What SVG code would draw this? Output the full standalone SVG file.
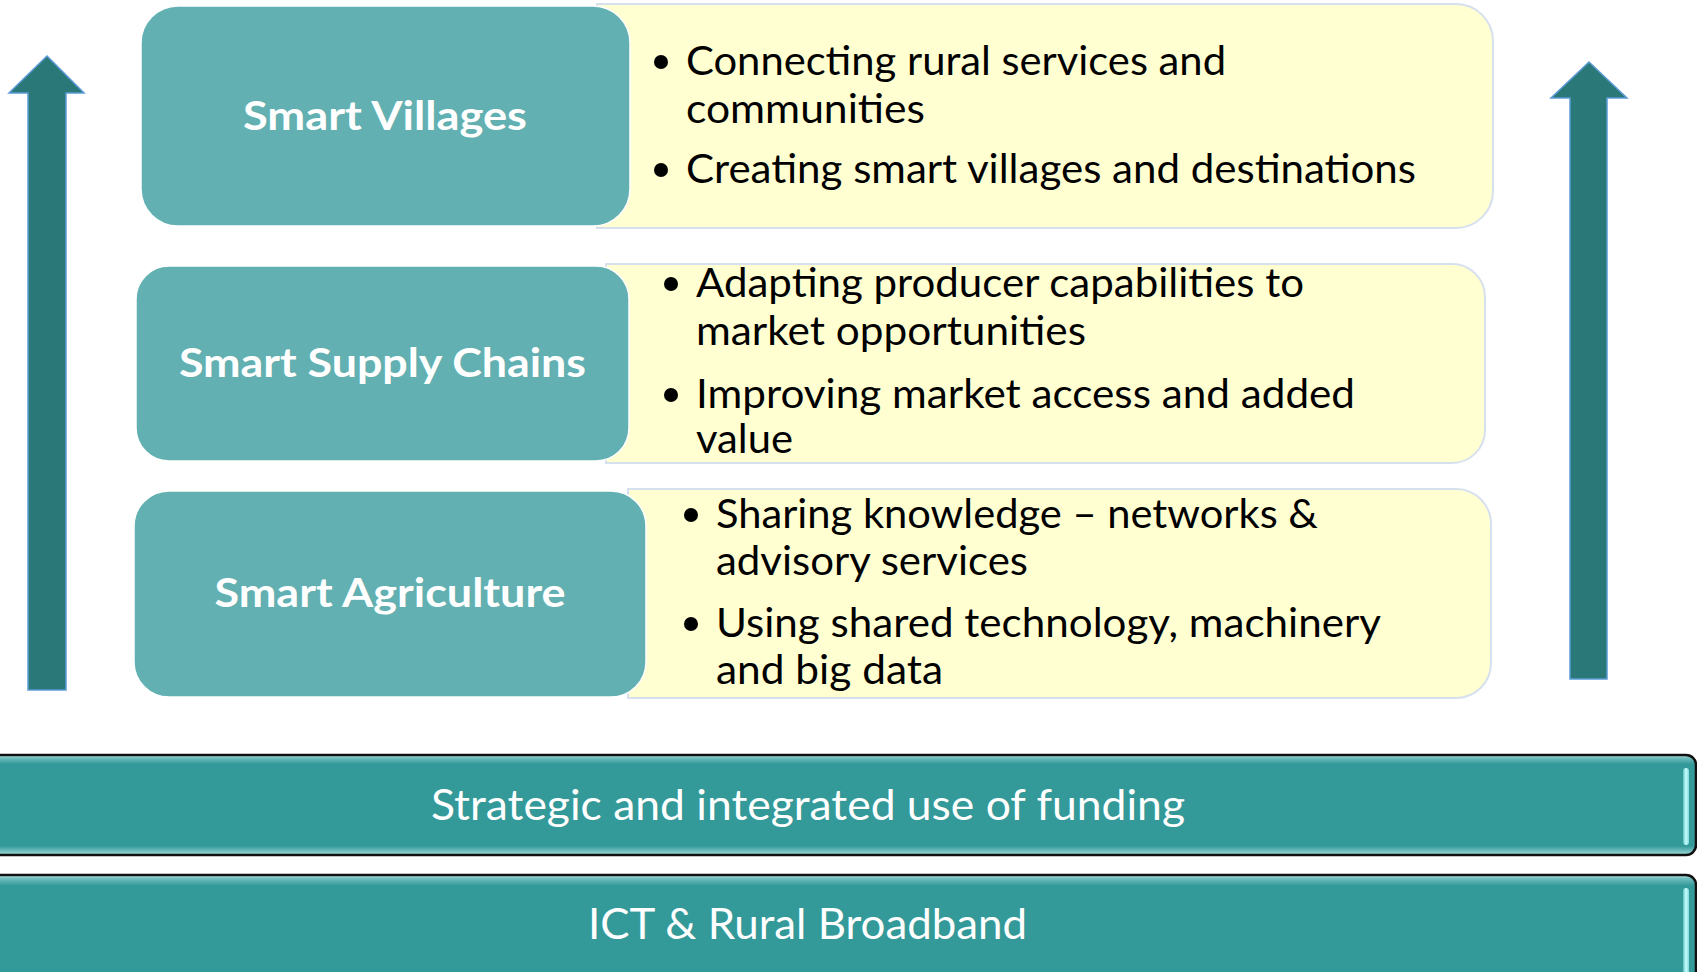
<svg xmlns="http://www.w3.org/2000/svg" width="1697" height="972" viewBox="0 0 1697 972">
<style>
.teal{fill:#62b0b1;stroke:#ffffff;stroke-width:1.5}
.yel{fill:#ffffd2;stroke:#d6e0ee;stroke-width:2}
.title{font-family:Lato,"Open Sans",sans-serif;font-weight:bold;font-size:41px;fill:#ffffff;text-anchor:middle}
.bul{font-family:Lato,"Open Sans",sans-serif;font-size:40.5px;fill:#000000}
.dot{fill:#000000}
.arrow{fill:#2a7878;stroke:#5b9bd5;stroke-width:1.5}
.bar{fill:url(#bevel);stroke:#111111;stroke-width:2.5}
.hl{fill:url(#hlg)}
.bartxt{font-family:Lato,"Open Sans",sans-serif;font-size:42px;fill:#ffffff;text-anchor:middle}
</style>
<defs>
<linearGradient id="bevel" x1="0" y1="0" x2="0" y2="1">
<stop offset="0" stop-color="#c4eaea"/>
<stop offset="0.03" stop-color="#6fbdbd"/>
<stop offset="0.09" stop-color="#339999"/>
<stop offset="0.91" stop-color="#339999"/>
<stop offset="0.96" stop-color="#6fbdbd"/>
<stop offset="1" stop-color="#a8dede"/>
</linearGradient>
<linearGradient id="hlg" x1="0" y1="0" x2="1" y2="0">
<stop offset="0" stop-color="#5fc0c0"/>
<stop offset="0.5" stop-color="#c8ffff"/>
<stop offset="1" stop-color="#7fd8d8"/>
</linearGradient>
</defs>
<rect x="0" y="0" width="1697" height="972" fill="#ffffff"/>

<g id="connectors">
<path class="arrow" d="M47,56 L84,93 L66,93 L66,690 L28,690 L28,93 L9,93 Z"/>
<path class="arrow" d="M1589,62 L1627,98 L1607,98 L1607,679 L1570,679 L1570,98 L1551,98 Z"/>
</g>

<g id="smart-villages">
<path class="yel" d="M597,4 L1456,4 A37,37 0 0 1 1493,41 L1493,191 A37,37 0 0 1 1456,228 L597,228 Z"/>
<rect class="teal" x="141" y="6" width="489" height="220" rx="37" ry="37"/>
<text class="title" x="385" y="130" textLength="284" lengthAdjust="spacingAndGlyphs">Smart Villages</text>
<circle class="dot" cx="661" cy="62" r="7"/>
<text class="bul" x="686" y="75" textLength="540" lengthAdjust="spacingAndGlyphs">Connecting rural services and</text>
<text class="bul" x="686" y="123" textLength="239" lengthAdjust="spacingAndGlyphs">communities</text>
<circle class="dot" cx="661" cy="170" r="7"/>
<text class="bul" x="686" y="183" textLength="730" lengthAdjust="spacingAndGlyphs">Creating smart villages and destinations</text>
</g>

<g id="smart-supply-chains">
<path class="yel" d="M606,264 L1452,264 A33,33 0 0 1 1485,297 L1485,430 A33,33 0 0 1 1452,463 L606,463 Z"/>
<rect class="teal" x="136" y="266" width="493" height="195" rx="33" ry="33"/>
<text class="title" x="382.5" y="377" textLength="407" lengthAdjust="spacingAndGlyphs">Smart Supply Chains</text>
<circle class="dot" cx="671" cy="284" r="7"/>
<text class="bul" x="696" y="297" textLength="608" lengthAdjust="spacingAndGlyphs">Adapting producer capabilities to</text>
<text class="bul" x="696" y="345" textLength="390" lengthAdjust="spacingAndGlyphs">market opportunities</text>
<circle class="dot" cx="671" cy="395" r="7"/>
<text class="bul" x="696" y="408" textLength="659" lengthAdjust="spacingAndGlyphs">Improving market access and added</text>
<text class="bul" x="696" y="453" textLength="97" lengthAdjust="spacingAndGlyphs">value</text>
</g>

<g id="smart-agriculture">
<path class="yel" d="M628,489 L1456,489 A35,35 0 0 1 1491,524 L1491,663 A35,35 0 0 1 1456,698 L628,698 Z"/>
<rect class="teal" x="134" y="491" width="512" height="206" rx="35" ry="35"/>
<text class="title" x="390" y="607" textLength="351" lengthAdjust="spacingAndGlyphs">Smart Agriculture</text>
<circle class="dot" cx="691" cy="515" r="7"/>
<text class="bul" x="716" y="528" textLength="602" lengthAdjust="spacingAndGlyphs">Sharing knowledge – networks &amp;</text>
<text class="bul" x="716" y="575" textLength="312" lengthAdjust="spacingAndGlyphs">advisory services</text>
<circle class="dot" cx="691" cy="624" r="7"/>
<text class="bul" x="716" y="637" textLength="665" lengthAdjust="spacingAndGlyphs">Using shared technology, machinery</text>
<text class="bul" x="716" y="684" textLength="227" lengthAdjust="spacingAndGlyphs">and big data</text>
</g>

<g id="funding-bar">
<rect class="bar" x="-20" y="755" width="1716" height="100" rx="10" ry="10"/>
<rect class="hl" x="1683" y="768" width="6" height="77" rx="3" ry="3"/>
<text class="bartxt" x="808" y="820" textLength="754" lengthAdjust="spacingAndGlyphs">Strategic and integrated use of funding</text>
</g>

<g id="ict-bar">
<rect class="bar" x="-20" y="875" width="1716" height="120" rx="10" ry="10"/>
<rect class="hl" x="1683" y="888" width="6" height="100" rx="3" ry="3"/>
<text class="bartxt" x="807.5" y="939" textLength="439" lengthAdjust="spacingAndGlyphs">ICT &amp; Rural Broadband</text>
</g>
</svg>
